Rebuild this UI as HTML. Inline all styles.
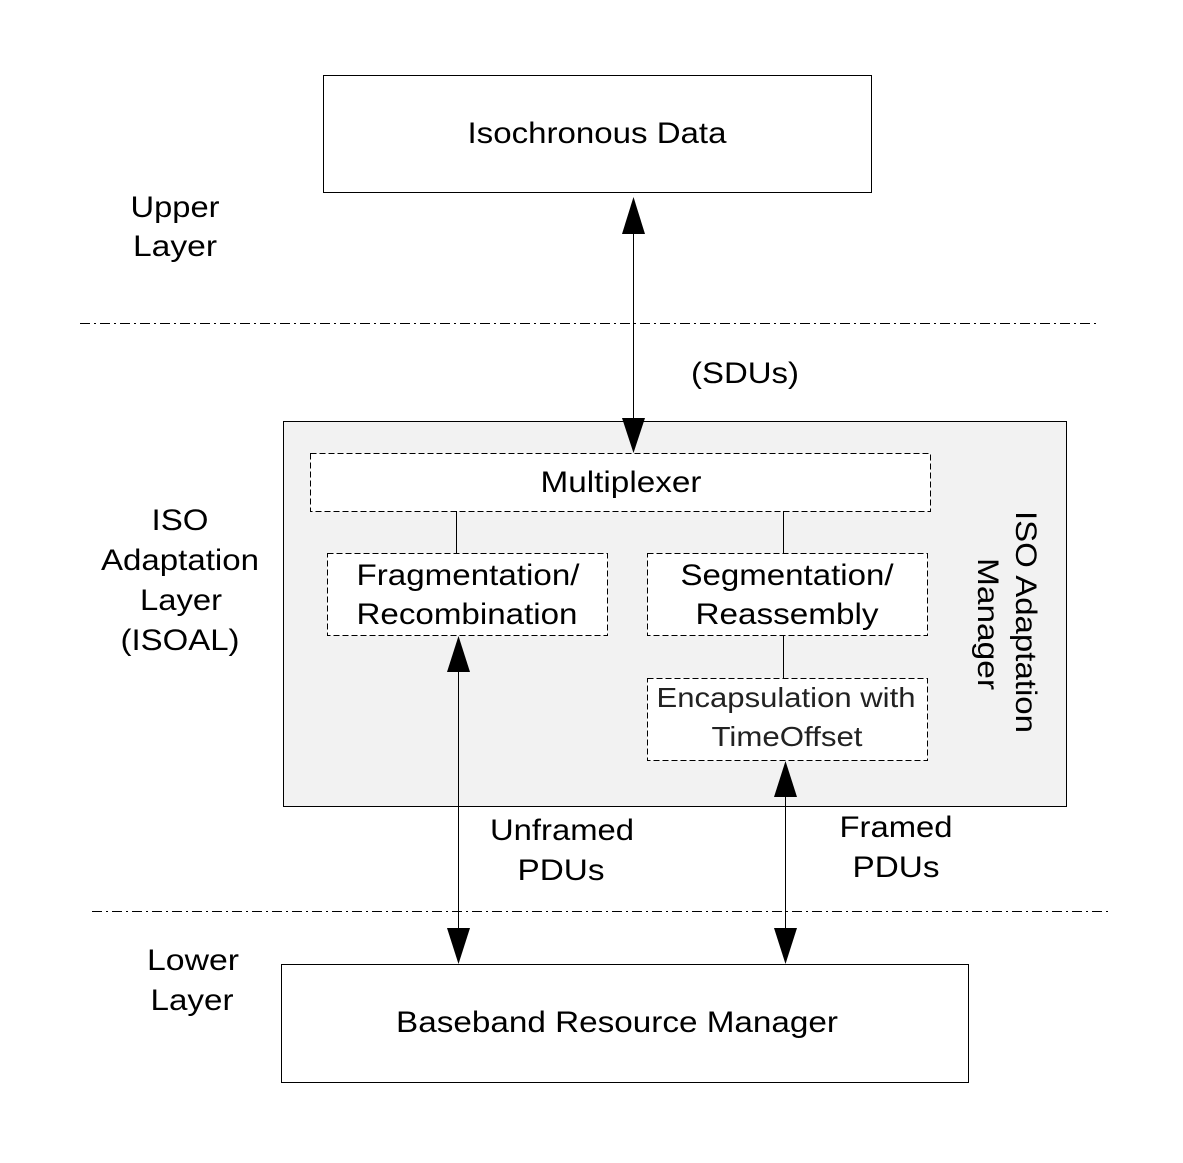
<!DOCTYPE html>
<html><head><style>body{margin:0;background:#fff}</style></head><body>
<svg width="1183" height="1158" viewBox="0 0 1183 1158" xmlns="http://www.w3.org/2000/svg" font-family="Liberation Sans, Arial, sans-serif" font-size="30" text-anchor="middle">
<rect x="0" y="0" width="1183" height="1158" fill="#fff"/>
<rect x="323.5" y="75.5" width="548" height="117" fill="#fff" stroke="#000" stroke-width="1"/>
<text x="597" y="143" textLength="259" lengthAdjust="spacingAndGlyphs">Isochronous Data</text>
<text x="175" y="217" textLength="89" lengthAdjust="spacingAndGlyphs">Upper</text>
<text x="175" y="256" textLength="84" lengthAdjust="spacingAndGlyphs">Layer</text>
<line x1="80" y1="323.5" x2="1097" y2="323.5" stroke="#000" stroke-dasharray="10,4,2,4"/>
<text x="745" y="383" textLength="108" lengthAdjust="spacingAndGlyphs">(SDUs)</text>
<rect x="283.5" y="421.5" width="783" height="385" fill="#f2f2f2" stroke="#000"/>
<rect x="310.5" y="453.5" width="620" height="58" fill="#fff" stroke="#000" stroke-dasharray="6,3"/>
<text x="621" y="492" textLength="161" lengthAdjust="spacingAndGlyphs">Multiplexer</text>
<line x1="456.5" y1="511" x2="456.5" y2="553" stroke="#000"/>
<line x1="783.5" y1="511" x2="783.5" y2="553" stroke="#000"/>
<line x1="783.5" y1="635" x2="783.5" y2="678" stroke="#000"/>
<rect x="327.5" y="553.5" width="280" height="82" fill="#fff" stroke="#000" stroke-dasharray="6,3"/>
<text x="468" y="585" textLength="223" lengthAdjust="spacingAndGlyphs">Fragmentation/</text>
<text x="467" y="624" textLength="221" lengthAdjust="spacingAndGlyphs">Recombination</text>
<rect x="647.5" y="553.5" width="280" height="82" fill="#fff" stroke="#000" stroke-dasharray="6,3"/>
<text x="787" y="585" textLength="213" lengthAdjust="spacingAndGlyphs">Segmentation/</text>
<text x="787" y="624" textLength="183" lengthAdjust="spacingAndGlyphs">Reassembly</text>
<rect x="647.5" y="678.5" width="280" height="82" fill="#fff" stroke="#000" stroke-dasharray="6,3"/>
<text x="786" y="707" font-size="28" fill="#222" textLength="259" lengthAdjust="spacingAndGlyphs">Encapsulation with</text>
<text x="787" y="746" font-size="28" fill="#222" textLength="151" lengthAdjust="spacingAndGlyphs">TimeOffset</text>
<g transform="translate(1016,622) rotate(90)">
<text x="0" y="0" textLength="222" lengthAdjust="spacingAndGlyphs">ISO Adaptation</text>
<text x="2" y="38" textLength="132" lengthAdjust="spacingAndGlyphs">Manager</text>
</g>
<text x="180" y="530" textLength="57" lengthAdjust="spacingAndGlyphs">ISO</text>
<text x="180" y="570" textLength="158" lengthAdjust="spacingAndGlyphs">Adaptation</text>
<text x="181" y="610" textLength="82" lengthAdjust="spacingAndGlyphs">Layer</text>
<text x="180" y="650" textLength="119" lengthAdjust="spacingAndGlyphs">(ISOAL)</text>
<line x1="633.5" y1="225" x2="633.5" y2="425" stroke="#000"/>
<polygon points="633.5,197 622,234 645,234" fill="#000"/>
<polygon points="633.5,453 622,418 645,418" fill="#000"/>
<line x1="458.5" y1="665" x2="458.5" y2="935" stroke="#000"/>
<polygon points="458.5,636 447,672 470,672" fill="#000"/>
<polygon points="458.5,964 447,928 470,928" fill="#000"/>
<line x1="785.5" y1="790" x2="785.5" y2="935" stroke="#000"/>
<polygon points="785.5,761 774,797 797,797" fill="#000"/>
<polygon points="785.5,964 774,928 797,928" fill="#000"/>
<text x="562" y="840" textLength="144" lengthAdjust="spacingAndGlyphs">Unframed</text>
<text x="561" y="880" textLength="87" lengthAdjust="spacingAndGlyphs">PDUs</text>
<text x="896" y="837" textLength="113" lengthAdjust="spacingAndGlyphs">Framed</text>
<text x="896" y="877" textLength="87" lengthAdjust="spacingAndGlyphs">PDUs</text>
<line x1="92" y1="911.5" x2="1110" y2="911.5" stroke="#000" stroke-dasharray="10,4,2,4"/>
<text x="193" y="970" textLength="92" lengthAdjust="spacingAndGlyphs">Lower</text>
<text x="192" y="1010" textLength="83" lengthAdjust="spacingAndGlyphs">Layer</text>
<rect x="281.5" y="964.5" width="687" height="118" fill="#fff" stroke="#000"/>
<text x="617" y="1032" textLength="442" lengthAdjust="spacingAndGlyphs">Baseband Resource Manager</text>
</svg>
</body></html>
